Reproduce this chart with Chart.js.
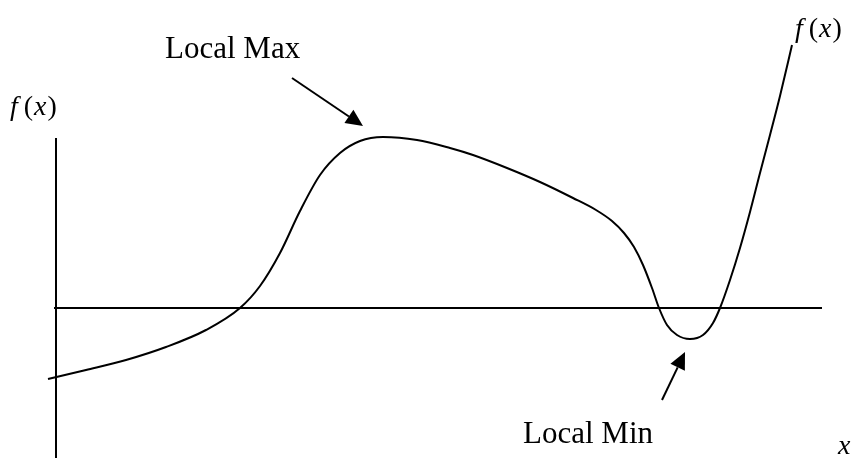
<!DOCTYPE html>
<html>
<head>
<meta charset="utf-8">
<script src="https://cdn.jsdelivr.net/npm/chart.js@4.4.1/dist/chart.umd.min.js"></script>
<style>
  body { margin: 0; background: #fff; }
  #wrap { width: 859px; height: 458px; }
</style>
</head>
<body>
<div id="wrap"><canvas id="sketch" width="859" height="458"></canvas></div>
<script>
// curve (x right of the f(x) axis, y above the x axis)
const xs = [-8, 30, 70, 110, 150, 184, 204, 224, 244, 264, 284, 304, 327, 361, 394, 417, 451, 484, 517, 540, 556, 568, 578, 587, 596, 603, 611, 621, 634, 647, 657, 664, 674, 684, 694, 704, 714, 724, 736];
const ys = [-71, -62, -52, -39, -22, 0, 22, 55, 97, 133, 155, 167, 171, 168, 160, 153, 140, 126, 110, 98, 87, 75, 61, 43, 20, 0, -17, -27, -31, -27, -15, 0, 28, 60, 96, 135, 173, 212, 263];

const xAxisSpan = [-2, 766];
const yAxisSpan = [170, -150];

// annotations: label, anchor, arrow from -> to
const notes = [
  { text: 'Local Max', at: [109, 250], from: [236, 230], to: [307, 182] },
  { text: 'Local Min', at: [467, -135], from: [606, -92], to: [629, -44] }
];
const fxLabels = [[-46, 193], [739, 271]];
const xLabel = [782, -146];

let points = [];
for (i = 0; i < xs.length; i++) {
  points.push({ x: xs[i], y: ys[i] });
}

function drawFx(ctx, px, py) {
  let x = px;
  ctx.font = 'italic 28px "Liberation Serif"';
  ctx.fillText('f', x, py);
  x = x + ctx.measureText('f').width + 6;
  ctx.font = '28px "Liberation Serif"';
  ctx.fillText('(', x, py);
  x = x + ctx.measureText('(').width + 1;
  ctx.font = 'italic 28px "Liberation Serif"';
  ctx.fillText('x', x, py);
  x = x + ctx.measureText('x').width + 1;
  ctx.font = '28px "Liberation Serif"';
  ctx.fillText(')', x, py);
}

function arrow(ctx, x1, y1, x2, y2) {
  let ang = Math.atan2(y2 - y1, x2 - x1);
  let len = 17, half = 8;
  let bx = x2 - Math.cos(ang) * len, by = y2 - Math.sin(ang) * len;
  ctx.beginPath();
  ctx.moveTo(x1, y1);
  ctx.lineTo(bx, by);
  ctx.stroke();
  ctx.beginPath();
  ctx.moveTo(x2, y2);
  ctx.lineTo(bx - Math.sin(ang) * half, by + Math.cos(ang) * half);
  ctx.lineTo(bx + Math.sin(ang) * half, by - Math.cos(ang) * half);
  ctx.closePath();
  ctx.fill();
}

const sketchPlugin = {
  id: 'sketchBits',
  beforeDatasetsDraw(chart) {
    let ctx = chart.ctx;
    let sx = chart.scales.x, sy = chart.scales.y;
    ctx.save();
    ctx.strokeStyle = '#000';
    ctx.lineWidth = 2;
    ctx.beginPath();
    ctx.moveTo(sx.getPixelForValue(xAxisSpan[0]), sy.getPixelForValue(0));
    ctx.lineTo(sx.getPixelForValue(xAxisSpan[1]), sy.getPixelForValue(0));
    ctx.moveTo(sx.getPixelForValue(0), sy.getPixelForValue(yAxisSpan[0]));
    ctx.lineTo(sx.getPixelForValue(0), sy.getPixelForValue(yAxisSpan[1]));
    ctx.stroke();
    ctx.restore();
  },
  afterDatasetsDraw(chart) {
    let ctx = chart.ctx;
    let sx = chart.scales.x, sy = chart.scales.y;
    ctx.save();
    ctx.fillStyle = '#000';
    ctx.strokeStyle = '#000';
    ctx.lineWidth = 2;
    ctx.textBaseline = 'alphabetic';
    ctx.textAlign = 'left';
    for (n = 0; n < notes.length; n++) {
      let nt = notes[n];
      ctx.font = '31px "Liberation Serif"';
      ctx.fillText(nt.text, sx.getPixelForValue(nt.at[0]), sy.getPixelForValue(nt.at[1]));
      arrow(ctx, sx.getPixelForValue(nt.from[0]), sy.getPixelForValue(nt.from[1]),
        sx.getPixelForValue(nt.to[0]), sy.getPixelForValue(nt.to[1]));
    }
    for (n = 0; n < fxLabels.length; n++) {
      drawFx(ctx, sx.getPixelForValue(fxLabels[n][0]), sy.getPixelForValue(fxLabels[n][1]));
    }
    ctx.font = 'italic 28px "Liberation Serif"';
    ctx.fillText('x', sx.getPixelForValue(xLabel[0]), sy.getPixelForValue(xLabel[1]));
    ctx.restore();
  }
};

new Chart(document.getElementById('sketch'), {
  type: 'line',
  data: {
    datasets: [{
      data: points,
      borderColor: '#000',
      borderWidth: 2,
      pointRadius: 0,
      cubicInterpolationMode: 'monotone',
      fill: false
    }]
  },
  options: {
    responsive: false,
    animation: false,
    layout: { padding: 0 },
    plugins: { legend: { display: false }, tooltip: { enabled: false } },
    scales: {
      x: { type: 'linear', min: -56, max: 803, display: false },
      y: { type: 'linear', min: -150, max: 308, display: false }
    }
  },
  plugins: [sketchPlugin]
});
</script>
</body>
</html>
